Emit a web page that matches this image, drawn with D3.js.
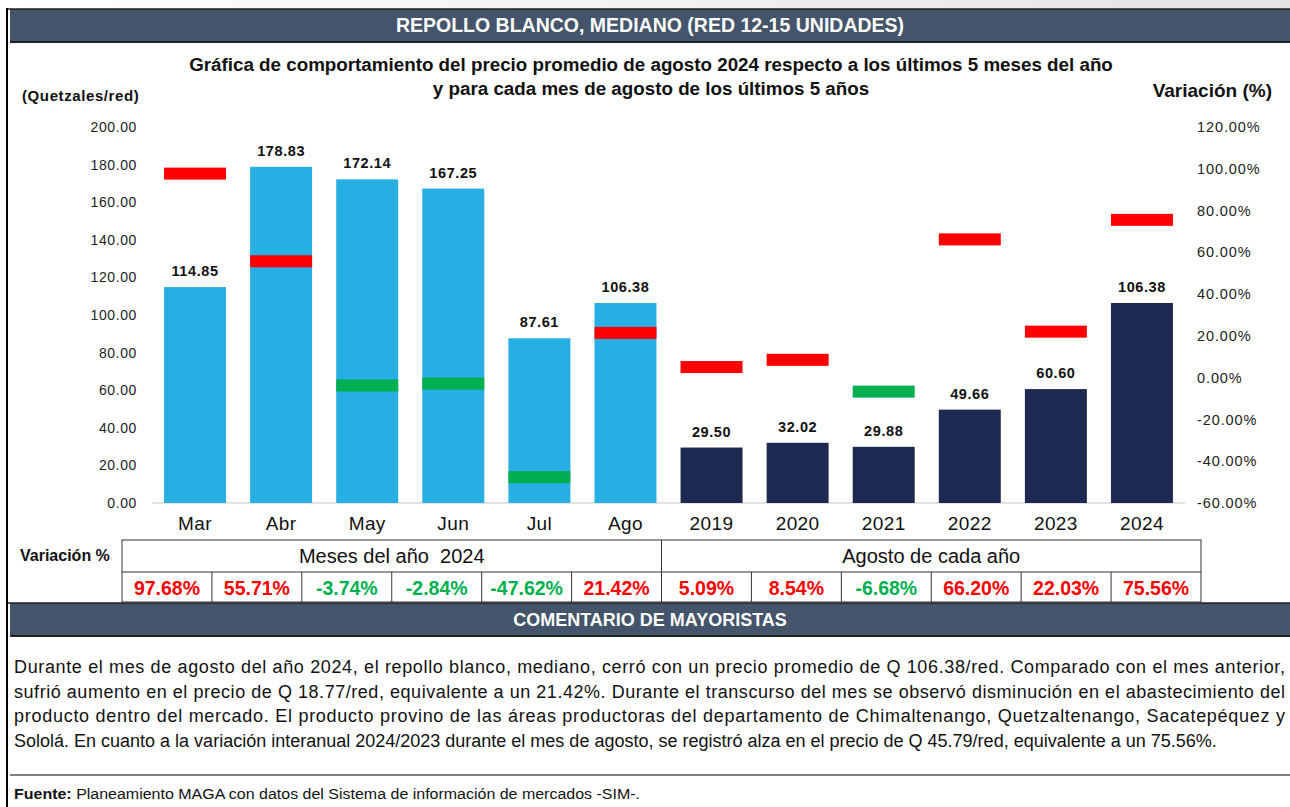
<!DOCTYPE html>
<html><head><meta charset="utf-8">
<script src="https://cdn.jsdelivr.net/npm/d3@7"></script>
<style>
html,body{margin:0;padding:0;background:#fff;}
svg{display:block;font-family:"Liberation Sans",Arial,sans-serif;}
</style></head>
<body><svg id="c" width="1290" height="807"></svg>
<script>
// ---------- data ----------
const categories = ["Mar","Abr","May","Jun","Jul","Ago","2019","2020","2021","2022","2023","2024"];
const prices = [114.85,178.83,172.14,167.25,87.61,106.38,29.50,32.02,29.88,49.66,60.60,106.38];
const variations = [97.68,55.71,-3.74,-2.84,-47.62,21.42,5.09,8.54,-6.68,66.20,22.03,75.56];
const groups = ["month","month","month","month","month","month","year","year","year","year","year","year"];
const leftTicks = [0,20,40,60,80,100,120,140,160,180,200];
const rightTicks = [-60,-40,-20,0,20,40,60,80,100,120];
const tableGroups = ["Meses del año  2024","Agosto de cada año"];
const title = "REPOLLO BLANCO, MEDIANO (RED 12-15 UNIDADES)";
const subtitle = ["Gráfica de comportamiento del precio promedio de agosto 2024 respecto a los últimos 5 meses del año","y para cada mes de agosto de los últimos 5 años"];
const commentLines = [
"Durante el mes de agosto del año 2024, el repollo blanco, mediano, cerró con un precio promedio de Q 106.38/red. Comparado con el mes anterior,",
"sufrió aumento en el precio de Q 18.77/red, equivalente a un 21.42%. Durante el transcurso del mes se observó disminución en el abastecimiento del",
"producto dentro del mercado. El producto provino de las áreas productoras del departamento de Chimaltenango, Quetzaltenango, Sacatepéquez y",
"Sololá. En cuanto a la variación interanual 2024/2023 durante el mes de agosto, se registró alza en el precio de Q 45.79/red, equivalente a un 75.56%."
];

// ---------- styles ----------
const C = {bar:"#27aee3", bar2:"#1d2951", red:"#ff0000", green:"#00b050", band:"#44546a"};
const f2 = v => d3.format(".2f")(v).replace("\u2212","-");
const svg = d3.select("#c");

// top light strip
const grad = svg.append("defs").append("linearGradient").attr("id","tg");
grad.append("stop").attr("offset","0").attr("stop-color","#ffffff");
grad.append("stop").attr("offset","1").attr("stop-color","#e4e4e4");
svg.append("rect").attr("x",0).attr("y",0).attr("width",1290).attr("height",9).attr("fill","url(#tg)");

// frame
svg.append("line").attr("x1",7).attr("x2",7).attr("y1",8).attr("y2",807).attr("stroke","#000").attr("stroke-width",2);

function band(y0,y1,text,fs){
  svg.append("rect").attr("x",10).attr("y",y0).attr("width",1280).attr("height",y1-y0).attr("fill",C.band);
  svg.append("line").attr("x1",8).attr("x2",1290).attr("y1",y0).attr("y2",y0).attr("stroke","#222").attr("stroke-width",1.5);
  svg.append("line").attr("x1",10).attr("x2",1290).attr("y1",y1).attr("y2",y1).attr("stroke","#222").attr("stroke-width",2);
  svg.append("text").attr("x",650).attr("y",(y0+y1)/2+6.5).attr("text-anchor","middle")
    .attr("fill","#fff").attr("font-weight","bold").attr("font-size",fs).text(text);
}
band(9,42,title,"19.5px");
band(603,636,"COMENTARIO DE MAYORISTAS","18px");

// subtitles
subtitle.forEach((s,i)=>svg.append("text").attr("x",651).attr("y",71+i*24).attr("text-anchor","middle")
  .attr("font-weight","bold").attr("font-size","18.8px").attr("fill","#111").text(s));
svg.append("text").attr("x",22).attr("y",101).attr("font-weight","bold").attr("font-size","15px").attr("letter-spacing","0.6px").attr("fill","#111").text("(Quetzales/red)");
svg.append("text").attr("x",1272).attr("y",97).attr("text-anchor","end").attr("font-weight","bold").attr("font-size","19px").attr("fill","#111").text("Variación (%)");

// ---------- scales ----------
const x = d3.scaleBand().domain(categories).range([152,1185]).paddingInner(0.28).paddingOuter(0.14);
const y = d3.scaleLinear().domain([0,200]).range([503,127]);
const y2 = d3.scaleLinear().domain([-60,120]).range([503,127]);

// left axis
const la = svg.append("g").attr("transform","translate(150,0)")
  .call(d3.axisLeft(y).tickValues(leftTicks).tickFormat(f2).tickSize(0).tickPadding(13));
la.select(".domain").remove();
la.selectAll("text").attr("font-size","14px").attr("fill","#222").attr("letter-spacing","0.6px").attr("font-family","Liberation Sans, Arial, sans-serif");

// right axis
const ra = svg.append("g").attr("transform","translate(1185,0)")
  .call(d3.axisRight(y2).tickValues(rightTicks).tickFormat(d=>f2(d)+"%").tickSize(0).tickPadding(12));
ra.select(".domain").remove();
ra.selectAll("text").attr("font-size","14.5px").attr("fill","#222").attr("letter-spacing","0.9px").attr("font-family","Liberation Sans, Arial, sans-serif");

// baseline
svg.append("line").attr("x1",152).attr("x2",1185).attr("y1",y(0)).attr("y2",y(0)).attr("stroke","#d9d9d9").attr("stroke-width",1.5);

// bars
svg.append("g").selectAll("rect").data(categories).join("rect")
  .attr("x",d=>x(d)).attr("width",x.bandwidth())
  .attr("y",(d,i)=>y(prices[i])).attr("height",(d,i)=>y(0)-y(prices[i]))
  .attr("fill",(d,i)=>groups[i]==="month"?C.bar:C.bar2);

// variation markers
svg.append("g").selectAll("rect").data(categories).join("rect")
  .attr("x",d=>x(d)).attr("width",x.bandwidth())
  .attr("y",(d,i)=>y2(variations[i])-6).attr("height",12)
  .attr("fill",(d,i)=>variations[i]>=0?C.red:C.green);

// data labels
svg.append("g").selectAll("text").data(categories).join("text")
  .attr("x",d=>x(d)+x.bandwidth()/2).attr("y",(d,i)=>y(prices[i])-11)
  .attr("text-anchor","middle").attr("font-weight","bold").attr("font-size","14.5px").attr("letter-spacing","0.6px").attr("fill","#111")
  .text((d,i)=>f2(prices[i]));

// x axis labels
const xa = svg.append("g").attr("transform",`translate(0,${y(0)})`)
  .call(d3.axisBottom(x).tickSize(0).tickPadding(14));
xa.select(".domain").remove();
xa.selectAll("text").attr("font-size","19px").attr("fill","#111").attr("letter-spacing","0.4px").attr("font-family","Liberation Sans, Arial, sans-serif");

// ---------- table ----------
const tx0 = 122, tx1 = 1201, r0 = 540, r1 = 572, r2 = 602;
const cw = (tx1-tx0)/categories.length;
const tb = svg.append("g");
svg.append("text").attr("x",20).attr("y",561).attr("font-weight","bold").attr("font-size","16px").attr("fill","#111").text("Variación %");
tb.append("rect").attr("x",tx0).attr("y",r0).attr("width",tx1-tx0).attr("height",r2-r0).attr("fill","none").attr("stroke","#333").attr("stroke-width",1);
tb.append("line").attr("x1",tx0).attr("x2",tx1).attr("y1",r1).attr("y2",r1).attr("stroke","#333");
tb.append("line").attr("x1",tx0+6*cw).attr("x2",tx0+6*cw).attr("y1",r0).attr("y2",r2).attr("stroke","#333");
tableGroups.forEach((g,i)=>tb.append("text").attr("x",tx0+cw*3+i*cw*6).attr("y",r0+23).attr("text-anchor","middle")
  .style("white-space","pre").attr("font-size","20px").attr("fill","#111").text(g));
categories.forEach((c,i)=>{
  if(i>0) tb.append("line").attr("x1",tx0+i*cw).attr("x2",tx0+i*cw).attr("y1",r1).attr("y2",r2).attr("stroke","#333");
  tb.append("text").attr("x",tx0+i*cw+cw/2).attr("y",r1+23).attr("text-anchor","middle")
    .attr("font-weight","bold").attr("font-size","19.5px").attr("fill",variations[i]>=0?C.red:C.green)
    .text(f2(variations[i])+"%");
});

// ---------- comment ----------
const narrow = "'Liberation Sans Narrow','Arial Narrow','Liberation Sans',sans-serif";
commentLines.forEach((s,i)=>{
  const t = svg.append("text").attr("x",14).attr("y",673+i*24.7).attr("font-size","18px")
    .attr("font-family",narrow).attr("fill","#111").text(s);
  const w = t.node().getComputedTextLength();
  const target = i<3 ? 1271 : 1248;
  if(i<3 || w>target){ t.attr("textLength",target).attr("lengthAdjust", w>target?"spacingAndGlyphs":"spacing"); }
});
svg.append("line").attr("x1",10).attr("x2",1290).attr("y1",775).attr("y2",775).attr("stroke","#555").attr("stroke-width",1.5);
const f = svg.append("text").attr("x",14).attr("y",799).attr("font-size","15.5px").attr("font-family",narrow).attr("fill","#111")
  .attr("textLength",626).attr("lengthAdjust","spacingAndGlyphs");
f.append("tspan").attr("font-weight","bold").text("Fuente:");
f.append("tspan").text(" Planeamiento MAGA con datos del Sistema de información de mercados -SIM-.");
</script></body></html>
